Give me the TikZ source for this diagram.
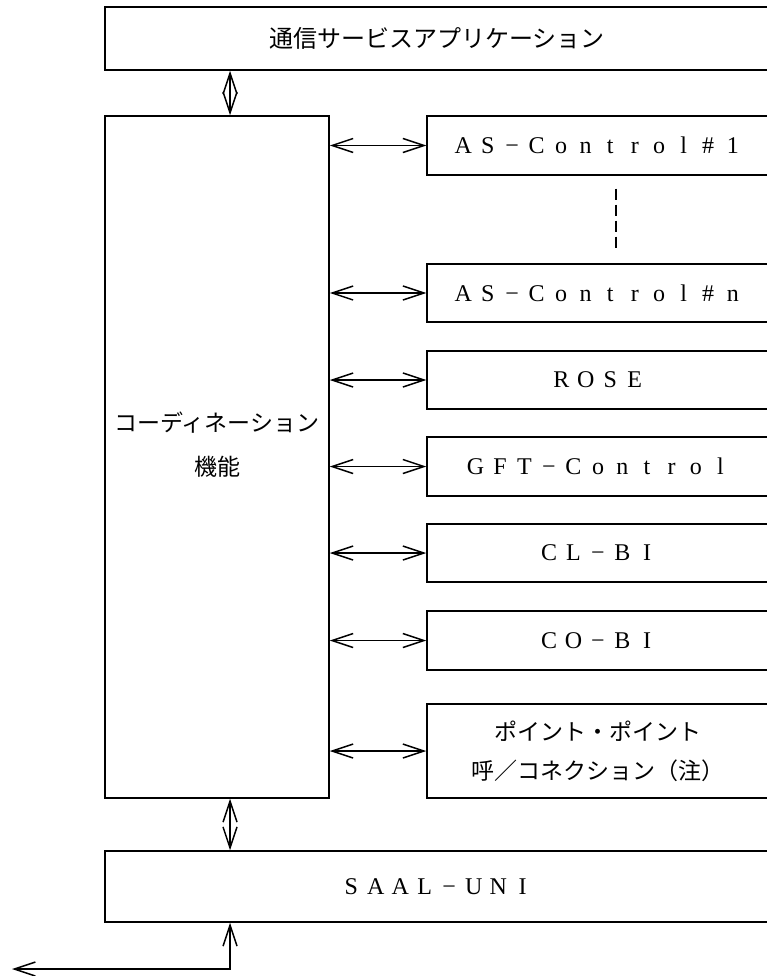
\documentclass[tikz,border=0pt]{standalone}
\usepackage{fontspec}
\setmainfont{Liberation Serif}
\newfontfamily\jp{Noto Sans CJK JP}
\usetikzlibrary{arrows.meta}

% letters set one per fixed cell, like full-width type
\newcommand\fwpitch{24.5pt}
\let\fwstop\relax
\def\fw#1{{\rmfamily\fontsize{24}{30}\selectfont\fwnext#1\fwstop}}
\def\fwnext#1{\ifx#1\fwstop\else\makebox[\fwpitch]{#1}\expandafter\fwnext\fi}

\tikzstyle{box}=[draw,line width=1.5pt,inner sep=0pt,align=center,font=\jp\fontsize{23}{39}\selectfont]
\tikzstyle{link}=[line width=1.5pt,{Straight Barb[length=21pt,width=14pt]}-{Straight Barb[length=21pt,width=14pt]}]

\begin{document}
\begin{tikzpicture}[x=1pt,y=-1pt]
  \useasboundingbox (0,0) rectangle (767,976);
  \node[box,minimum width=664pt,minimum height=63pt,font=\jp\fontsize{24}{30}\selectfont] (app)
    at (437,38.5) {通信サービスアプリケーション};
  \node[box,minimum width=224pt,minimum height=682pt] (coord) at (217,457) {};
  \node[align=center,font=\jp\fontsize{23}{44}\selectfont] (coordtxt)
    at ([yshift=12pt]coord.center) {コーディネーション\\機能};
  \node[box,minimum width=664pt,minimum height=71pt] (saal) at (437,886.5)
    {\fw{SAAL−UNI}};
  % functions on the right
  \foreach \name/\ymid/\hgt/\txt in {as1/145.5/59/{\fw{AS−Control\#1}},
                                      asn/293/58/{\fw{AS−Control\#n}},
                                      rose/380/58/{\fw{ROSE}},
                                      gft/466.5/59/{\fw{GFT−Control}},
                                      clbi/553/58/{\fw{CL−BI}},
                                      cobi/640.5/59/{\fw{CO−BI}},
                                      pp/751/94/{ポイント・ポイント\\呼／コネクション（注）}}
    \node[box,minimum width=342pt,minimum height=\hgt pt] (\name) at (598,\ymid) {\txt};
  \foreach \name in {as1,asn,rose,gft,clbi,cobi,pp}
    \draw[link] (coord.east |- \name.west) -- (\name.west);
  \draw[line width=1.2pt,dash pattern=on 11pt off 5pt]
    ([xshift=18pt,yshift=-13pt]as1.south) -- ([xshift=18pt,yshift=13pt]asn.north);
  % vertical links
  \coordinate (bus) at (230,0);
  \coordinate (ext) at (12,969);
  \draw[link] (bus |- app.south) -- (bus |- coord.north);
  \draw[link] (bus |- coord.south) -- (bus |- saal.north);
  \draw[link] (bus |- saal.south) |- (ext);
\end{tikzpicture}
\end{document}
